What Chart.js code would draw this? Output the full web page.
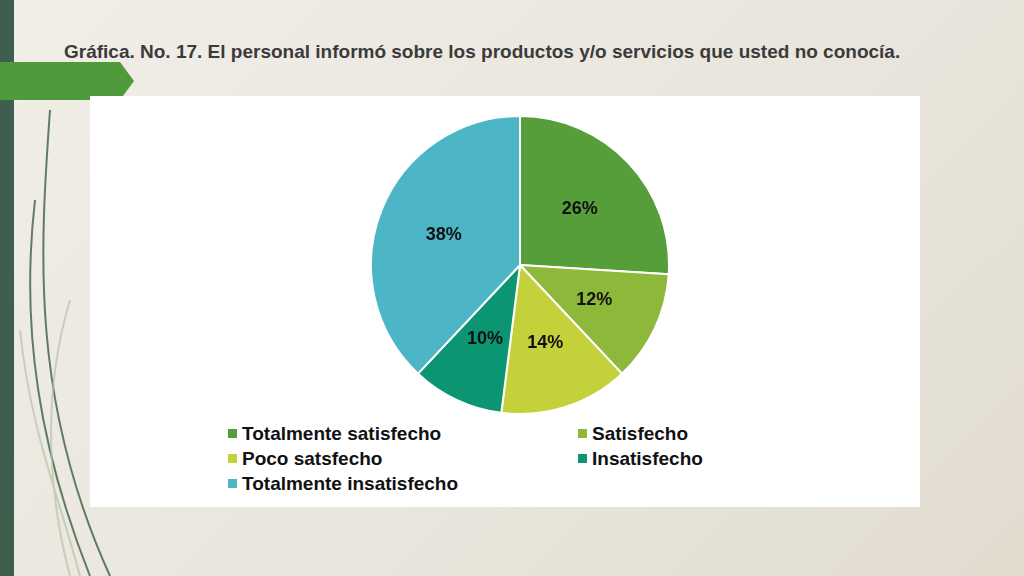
<!DOCTYPE html>
<html><head><meta charset="utf-8">
<script src="https://cdn.jsdelivr.net/npm/chart.js@4/dist/chart.umd.min.js"></script>
<style>
body{margin:0;width:1024px;height:576px;overflow:hidden;background:linear-gradient(135deg,#f1eee8 0%,#e9e5dc 60%,#e2dccf 100%);font-family:"Liberation Sans",Arial,sans-serif;position:relative}
#bar{position:absolute;left:0;top:0;width:14px;height:576px;background:#3f5e4e}
#tab{position:absolute;left:0;top:62px;width:134px;height:38px;background:#4f9a3a;clip-path:polygon(0 0,120px 0,134px 19px,120px 38px,0 38px)}
#title{position:absolute;left:64px;top:41px;font-size:19px;font-weight:bold;color:#3b3b3b}
#box{position:absolute;left:90px;top:96px;width:830px;height:411px;background:#fff}
#c{position:absolute;left:370px;top:115px}
.lg{position:absolute;font-size:19px;font-weight:bold;color:#111;white-space:nowrap}
.lg i{display:inline-block;width:9px;height:9px;margin-right:5px;vertical-align:2px}
svg{position:absolute;left:0;top:0}
</style></head><body>
<svg width="130" height="576"><g fill="none" stroke="#3f5e4e" stroke-width="2" opacity="0.8">
<path d="M50 110 C40 250 30 400 110 576"/><path d="M35 200 C20 330 40 450 90 576"/></g>
<g fill="none" stroke="#b9c3a5" stroke-width="2" opacity="0.7"><path d="M70 300 C40 400 50 500 70 576"/><path d="M20 330 C30 430 60 500 80 576"/></g></svg>
<div id="bar"></div><div id="tab"></div>
<div id="title">Gráfica. No. 17. El personal informó sobre los productos y/o servicios que usted no conocía.</div>
<div id="box"></div>
<canvas id="c" width="300" height="300" style="width:300px;height:300px"></canvas>
<div id="legend"></div>
<script>
const categories=["Totalmente satisfecho","Satisfecho","Poco satsfecho","Insatisfecho","Totalmente insatisfecho"];
const values=[26,12,14,10,38];
const colors=["#559e3a","#8db83a","#c4d13b","#0b9573","#4cb5c6"];
const legendPos=[[228,423],[578,423],[228,448],[578,448],[228,473]];
const lg=document.getElementById('legend');
categories.forEach((c,i)=>{const d=document.createElement('div');d.className='lg';d.style.left=legendPos[i][0]+'px';d.style.top=legendPos[i][1]+'px';d.innerHTML='<i style="background:'+colors[i]+'"></i>'+c;lg.appendChild(d);});
const labelsPlugin={id:'lbl',afterDatasetsDraw(ch){const ctx=ch.ctx;ch.getDatasetMeta(0).data.forEach((a,i)=>{const m=(a.startAngle+a.endAngle)/2;const r=a.outerRadius*0.55;ctx.save();ctx.font='bold 18px "Liberation Sans",Arial';ctx.fillStyle='#111';ctx.textAlign='center';ctx.textBaseline='middle';ctx.fillText(values[i]+'%',a.x+Math.cos(m)*r,a.y+Math.sin(m)*r);ctx.restore();});}};
new Chart(document.getElementById('c'),{type:'pie',data:{labels:categories,datasets:[{data:values,backgroundColor:colors,borderColor:'#fff',borderWidth:2}]},options:{responsive:false,animation:false,layout:{padding:0},plugins:{legend:{display:false},tooltip:{enabled:false}}},plugins:[labelsPlugin]});
</script></body></html>
